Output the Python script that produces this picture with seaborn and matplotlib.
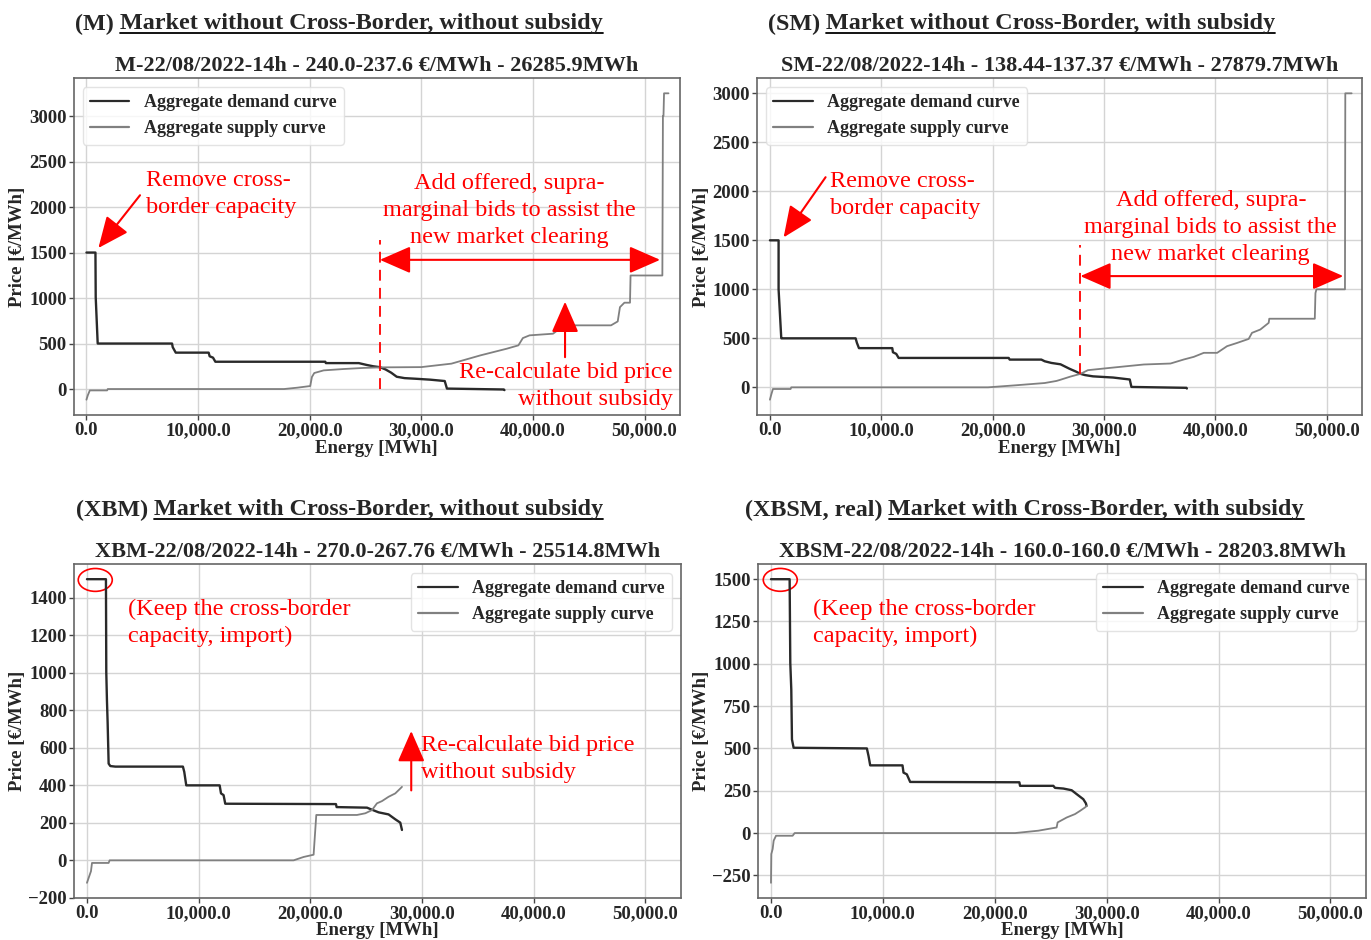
import matplotlib
matplotlib.use("Agg")
import matplotlib.pyplot as plt
import seaborn as sns
import pandas as pd
from matplotlib.patches import Ellipse
from matplotlib.lines import Line2D
from matplotlib.ticker import FuncFormatter, FixedLocator, MultipleLocator

# ---------------- data ----------------
# (M) market without cross-border, without subsidy
m_dem_x = [0, 806, 830, 1000, 1010, 7670, 7730, 8000, 10950, 11040, 11340, 11550, 21400, 21450, 24400,
           25100, 25700, 26300, 26800, 27300, 27800, 28500, 29500, 30800, 32100, 32300, 37400, 37450]
m_dem_y = [1500, 1500, 1010, 520, 500, 500, 460, 400, 400, 360, 345, 300, 300, 285, 285,
           265, 250, 240, 215, 180, 135, 120, 113, 103, 88, 5, -5, -12]
m_sup_x = [0, 120, 300, 1850, 1910, 17700, 18900, 20050, 20200, 20410, 21250, 23040, 24830, 26300, 30000,
           32700, 35300, 37650, 38700, 39100, 39700, 41800, 42600, 43000, 47000, 47600, 47800, 48200,
           48700, 48750, 51600, 51650, 51700, 51750, 52150]
m_sup_y = [-117, -70, -15, -15, 0, 0, 15, 33, 132, 176, 205, 220, 232, 238, 241,
           279, 370, 443, 480, 560, 590, 608, 681, 700, 700, 743, 900, 949,
           949, 1248, 1248, 3000, 3000, 3250, 3250]

# (SM) market without cross-border, with subsidy
sm_dem_x = [0, 779, 779, 1018, 1030, 7697, 7817, 7997, 10990, 11050, 11350, 11560, 21445, 21535, 24380,
            24680, 25280, 26100, 26900, 27500, 27880, 28300, 29020, 30820, 32320, 32470, 37410, 37450]
sm_dem_y = [1500, 1500, 1000, 504, 500, 500, 453, 400, 400, 358, 341, 300, 300, 283, 283,
            266, 249, 235, 190, 160, 138, 125, 112, 100, 80, 4, -5, -12]
sm_sup_x = [0, 120, 270, 1857, 1917, 19590, 21980, 24680, 25730, 26030, 27000, 27880, 28560, 30590,
            33580, 35980, 37170, 38070, 38970, 40170, 41060, 41960, 43000, 43300, 44050, 44800, 44850,
            48940, 49000, 49090, 51650, 51680, 52250]
sm_sup_y = [-126, -75, -17, -17, 0, 0, 20, 44, 65, 75, 110, 137, 175, 199,
            233, 243, 284, 311, 352, 352, 420, 453, 494, 556, 590, 658, 700,
            700, 962, 1000, 1000, 3000, 3000]

# (XBM) market with cross-border, without subsidy
xbm_dem_x = [0, 1700, 1730, 1790, 1850, 1940, 2090, 2540, 8590, 8710, 8890, 11880, 12000, 12230, 12380,
             22290, 22350, 25070, 25515, 26110, 27000, 27600, 28050, 28200]
xbm_dem_y = [1500, 1500, 1002, 852, 737, 516, 503, 500, 500, 472, 400, 400, 357, 348, 302,
             300, 284, 281, 270, 256, 245, 219, 201, 162]
xbm_sup_x = [0, 150, 360, 450, 1940, 2030, 18500, 19400, 20290, 20530, 24170, 24920, 25515, 25960,
             26410, 27000, 27600, 28050, 28200]
xbm_sup_y = [-120, -94, -58, -14, -14, 0, 0, 18, 30, 242, 242, 251, 268, 304,
             316, 339, 357, 383, 392]

# (XBSM, real) market with cross-border, with subsidy
xbsm_dem_x = [0, 1667, 1726, 1815, 1875, 2024, 8571, 8720, 8868, 11755, 11845, 12142, 12440, 22200,
              22260, 25237, 25385, 26130, 26873, 27320, 27915, 28150, 28204]
xbsm_dem_y = [1500, 1500, 1005, 848, 553, 504, 500, 455, 400, 400, 357, 347, 302, 300,
              279, 279, 267, 263, 253, 230, 200, 175, 160]
xbsm_sup_x = [0, 30, 150, 240, 450, 1934, 2113, 21814, 23900, 25530, 25620, 26430, 27170, 27620,
              28060, 28204]
xbsm_sup_y = [-294, -124, -94, -45, -16, -16, 0, 0, 14, 33, 63, 92, 112, 131, 151, 160]

prefixes = ["(M)", "(SM)", "(XBM)", "(XBSM, real)"]
headers = ["Market without Cross-Border, without subsidy",
           "Market without Cross-Border, with subsidy",
           "Market with Cross-Border, without subsidy",
           "Market with Cross-Border, with subsidy"]
titles = ["M-22/08/2022-14h - 240.0-237.6 €/MWh - 26285.9MWh",
          "SM-22/08/2022-14h - 138.44-137.37 €/MWh - 27879.7MWh",
          "XBM-22/08/2022-14h - 270.0-267.76 €/MWh - 25514.8MWh",
          "XBSM-22/08/2022-14h - 160.0-160.0 €/MWh - 28203.8MWh"]
x_ticks = [0, 10000, 20000, 30000, 40000, 50000]
y_steps = [500, 500, 200, 250]
clear_m = (26285.9, 240.0)
clear_sm = (27879.7, 138.0)

# ---------------- style ----------------
sns.set_theme(style="whitegrid")
plt.rcParams['font.family'] = ['Liberation Serif', 'DejaVu Serif']
plt.rcParams['axes.edgecolor'] = '#555555'
plt.rcParams['grid.color'] = '#d4d4d4'
plt.rcParams['grid.linewidth'] = 1.0

W, H = 1371, 940
fig = plt.figure(figsize=(W / 100, H / 100), dpi=100)

def px_ax(l, t, r, b):
    return fig.add_axes([l / W, 1 - b / H, (r - l) / W, (b - t) / H])

axes = [px_ax(73.5, 78, 680, 415), px_ax(757, 78, 1362, 415),
        px_ax(74, 564, 681, 898), px_ax(758, 564, 1366, 898)]

data = [(m_dem_x, m_dem_y, m_sup_x, m_sup_y),
        (sm_dem_x, sm_dem_y, sm_sup_x, sm_sup_y),
        (xbm_dem_x, xbm_dem_y, xbm_sup_x, xbm_sup_y),
        (xbsm_dem_x, xbsm_dem_y, xbsm_sup_x, xbsm_sup_y)]

DEM_C = '#2a2a2a'
SUP_C = '#808080'
tick_fmt = FuncFormatter(lambda v, p: f"{v:,.1f}")

for i, (ax, (dx, dy, sx, sy)) in enumerate(zip(axes, data)):
    ddf = pd.DataFrame({"Energy": dx, "Price": dy})
    sdf = pd.DataFrame({"Energy": sx, "Price": sy})
    sns.lineplot(data=ddf, x="Energy", y="Price", sort=False, estimator=None, ax=ax,
                 color=DEM_C, lw=1.7, label="Aggregate demand curve")
    sns.lineplot(data=sdf, x="Energy", y="Price", sort=False, estimator=None, ax=ax,
                 color=SUP_C, lw=1.3, label="Aggregate supply curve")
    ax.set_xlim(-1160, 53180)
    ax.margins(y=0.05)
    ax.xaxis.set_major_locator(FixedLocator(x_ticks))
    ax.xaxis.set_major_formatter(tick_fmt)
    ax.yaxis.set_major_locator(MultipleLocator(y_steps[i]))
    ax.tick_params(axis='both', which='major', labelsize=13.5, length=3.5, width=1,
                   color='#444444', bottom=True, left=True, pad=1.5)
    for lab in ax.get_xticklabels() + ax.get_yticklabels():
        lab.set_fontweight('bold')
    ax.set_xlabel("Energy [MWh]", fontsize=13.5, fontweight='bold',
                  labelpad=1 if i < 2 else 0)
    ax.set_ylabel("Price [€/MWh]", fontsize=13.5, fontweight='bold', labelpad=2)
    ax.set_title(titles[i], fontsize=16, fontweight='bold', pad=5)
    for s in ax.spines.values():
        s.set_color('#666666')
        s.set_linewidth(1.2)
    leg = ax.legend(loc='upper left' if i < 2 else 'upper right',
                    prop={'weight': 'bold', 'size': 13}, frameon=True,
                    handlelength=2.2, borderaxespad=0.5, labelspacing=0.5)
    leg.get_frame().set_edgecolor('#dddddd')
    for h in leg.get_lines():
        h.set_linewidth(1.6)

RED = '#ff0000'
ann_font = dict(color=RED, fontsize=17.5, linespacing=1.38)

def arrow(ax, start, end, style='-|>'):
    ax.annotate('', xy=end, xytext=start,
                arrowprops=dict(arrowstyle=f'{style},head_length=0.8,head_width=0.35',
                                color=RED, lw=1.5, mutation_scale=24,
                                shrinkA=0, shrinkB=0))

# Panel M
ax = axes[0]
arrow(ax, (4800, 2130), (1070, 1550))
ax.text(5370, 2140, "Remove cross-\nborder capacity", ha='left', va='center', **ann_font)
ax.text(37870, 1965, "Add offered, supra-\nmarginal bids to assist the\nnew market clearing",
        ha='center', va='center', multialignment='center', **ann_font)
ax.plot([clear_m[0], clear_m[0]], [0, 1640], color=RED, ls=(0, (6, 4)), lw=1.3)
arrow(ax, (clear_m[0], 1420), (51400, 1420), style='<|-|>')
arrow(ax, (42880, 350), (42880, 960))
ax.text(52550, 30, "Re-calculate bid price\nwithout subsidy", ha='right', va='center',
        multialignment='right', **ann_font)

# Panel SM
ax = axes[1]
arrow(ax, (5000, 2144), (1230, 1530))
ax.text(5364, 1960, "Remove cross-\nborder capacity", ha='left', va='center', **ann_font)
ax.text(39600, 1630, "Add offered, supra-\nmarginal bids to assist the\nnew market clearing",
        ha='center', va='center', multialignment='center', **ann_font)
ax.plot([clear_sm[0], clear_sm[0]], [clear_sm[1], 1450], color=RED, ls=(0, (6, 4)), lw=1.3)
arrow(ax, (clear_sm[0], 1135), (51500, 1135), style='<|-|>')

# Panel XBM
ax = axes[2]
ax.add_patch(Ellipse((743, 1496), 3044, 122, fill=False, edgecolor=RED, lw=1.2))
ax.text(3697, 1268, "(Keep the cross-border\ncapacity, import)", ha='left', va='center',
        **ann_font)
arrow(ax, (29030, 373), (29030, 690))
ax.text(29930, 542, "Re-calculate bid price\nwithout subsidy", ha='left', va='center',
        **ann_font)

# Panel XBSM
ax = axes[3]
ax.add_patch(Ellipse((830, 1496), 3036, 135, fill=False, edgecolor=RED, lw=1.2))
ax.text(3768, 1243, "(Keep the cross-border\ncapacity, import)", ha='left', va='center',
        **ann_font)

# Headers with underline
header_pos = [(75, 24), (768, 24), (76, 510), (745, 510)]
fig.canvas.draw()
renderer = fig.canvas.get_renderer()
for (hx, hy), pre, hd in zip(header_pos, prefixes, headers):
    t1 = fig.text(hx / W, 1 - hy / H, pre, fontsize=17.4, fontweight='bold', ha='left', va='center')
    bb1 = t1.get_window_extent(renderer)
    x2 = bb1.x1 + 6
    t2 = fig.text(x2 / W, 1 - hy / H, hd, fontsize=17.4, fontweight='bold', ha='left', va='center')
    bb2 = t2.get_window_extent(renderer)
    yl = bb2.y0 + 2
    fig.add_artist(Line2D([bb2.x0 / W, bb2.x1 / W], [yl / H, yl / H], color='black', lw=1.3))

fig.savefig("out.png", dpi=100)
